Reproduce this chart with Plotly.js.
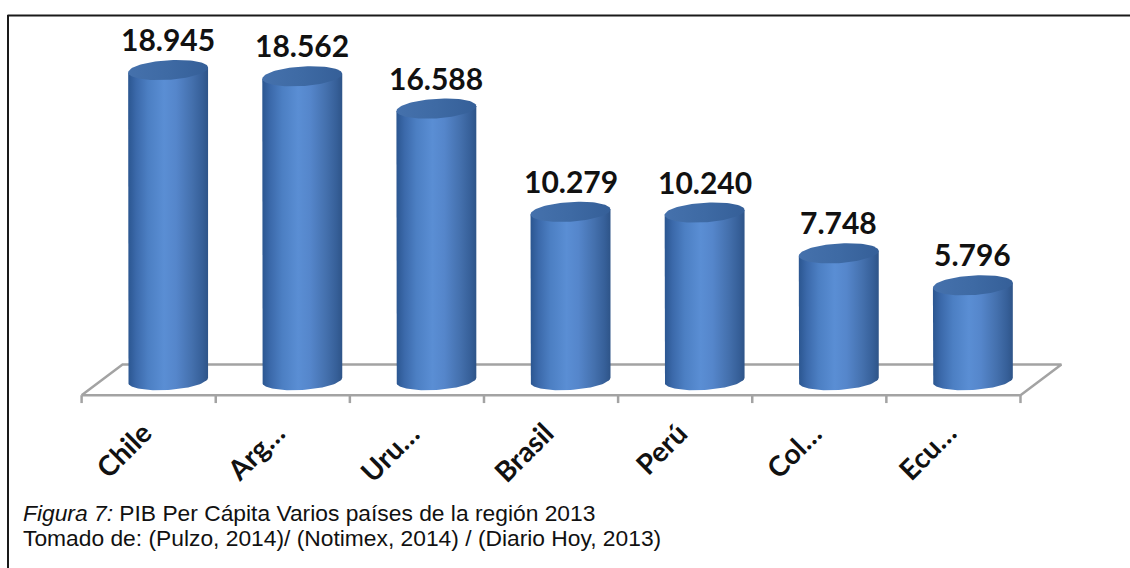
<!DOCTYPE html>
<html>
<head>
<meta charset="utf-8">
<script src="https://cdn.plot.ly/plotly-3.0.1.min.js"></script>
<style>
  html, body { margin: 0; padding: 0; background: #ffffff; }
  #chart { width: 1130px; height: 568px; }
</style>
</head>
<body>
<div id="chart"></div>
<script>
// ---- data ----
const categories = ["Chile", "Arg…", "Uru…", "Brasil", "Perú", "Col…", "Ecu…"];
const values = [18945, 18562, 16588, 10279, 10240, 7748, 5796];   // PIB per cápita (USD)
const captionTitle = "Figura 7:";
const captionLine1 = "PIB Per Cápita Varios países de la región 2013";
const captionLine2 = "Tomado de: (Pulzo, 2014)/ (Notimex, 2014) / (Diario Hoy, 2013)";

// ---- styling / geometry (not data) ----
const HALF_W = 0.298;   // cylinder half width, in category units
const ELL_B = 0.60;     // ellipse half height, in value units (thousands)
const TILT = 0.15;      // ellipse tilt
const N = 48;

function fmt(v) { return String(v).replace(/\B(?=(\d{3})+(?!\d))/g, "."); }

const bodyScale = [
  [0.00, "#2b5690"], [0.10, "#3b69aa"], [0.25, "#4c7fc3"], [0.45, "#5a8ed4"],
  [0.60, "#5586cb"], [0.80, "#4470ad"], [0.93, "#365f98"], [1.00, "#2e5488"]
];
const topScale = [[0, "#4571ac"], [0.5, "#3e6aa4"], [1, "#355f98"]];

const traces = [];

// floor (3D plot floor outline)
const nCat = categories.length;
const FL = -0.645, FR = FL + nCat, DX = 0.305, YF = -0.92, YB = 0.95, YT = -1.4;
const fx = [FL, FR, FR + DX, FL + DX, FL, null];
const fy = [YF, YF, YB, YB, YF, null];
for (let k = 0; k <= nCat; k++) { fx.push(FL + k, FL + k, null); fy.push(YF, YT, null); }
traces.push({
  type: "scatter", mode: "lines", x: fx, y: fy,
  line: { color: "#a3a3a3", width: 2.5 }, hoverinfo: "skip", showlegend: false
});

values.forEach((val, i) => {
  const v = val / 1000;
  const cx = i;
  // body
  const bx = [cx - HALF_W, cx - HALF_W], by = [v - TILT, -TILT];
  for (let j = 0; j <= N; j++) {
    const t = Math.PI + Math.PI * j / N;
    bx.push(cx + HALF_W * Math.cos(t));
    by.push(ELL_B * Math.sin(t) + TILT * Math.cos(t));
  }
  bx.push(cx + HALF_W, cx - HALF_W);
  by.push(v + TILT, v - TILT);
  traces.push({
    type: "scatter", mode: "lines", x: bx, y: by, fill: "toself",
    fillcolor: "#4a7cc0",
    fillgradient: { type: "horizontal", colorscale: bodyScale, start: cx - HALF_W, stop: cx + HALF_W },
    line: { width: 0, color: "rgba(0,0,0,0)" }, hoverinfo: "skip", showlegend: false
  });
  // top ellipse
  const tx = [], ty = [];
  for (let j = 0; j <= N * 2; j++) {
    const t = 2 * Math.PI * j / (N * 2);
    tx.push(cx + HALF_W * Math.cos(t));
    ty.push(v + ELL_B * Math.sin(t) + TILT * Math.cos(t));
  }
  traces.push({
    type: "scatter", mode: "lines", x: tx, y: ty, fill: "toself",
    fillcolor: "#3e6aa4",
    fillgradient: { type: "horizontal", colorscale: topScale, start: cx - HALF_W, stop: cx + HALF_W },
    line: { width: 0, color: "rgba(0,0,0,0)" }, hoverinfo: "skip", showlegend: false
  });
});

const annotations = [];
values.forEach((val, i) => {
  annotations.push({
    x: i, y: val / 1000, xref: "x", yref: "y", text: fmt(val), showarrow: false,
    yshift: 31, yanchor: "middle", xanchor: "center",
    font: { family: "Lato, 'Open Sans', sans-serif", size: 30, color: "#111111", weight: "bold" }
  });
});
categories.forEach((c, i) => {
  annotations.push({
    x: i, y: -2.0, xref: "x", yref: "y", text: "<b>" + c + "</b>", showarrow: false,
    textangle: -45, xanchor: "right", yanchor: "top", xshift: -8,
    font: { family: "Lato, 'Open Sans', sans-serif", size: 28, color: "#111111" }
  });
});
annotations.push({
  xref: "paper", yref: "paper", x: (21 - 34) / 1073, y: (462 - 498) / 442,
  xanchor: "left", yanchor: "top", align: "left", showarrow: false,
  text: "<i>" + captionTitle + "</i> " + captionLine1,
  font: { family: "'Liberation Sans', Arial, sans-serif", size: 22.8, color: "#111111" }
});
annotations.push({
  xref: "paper", yref: "paper", x: (21 - 34) / 1073, y: (462 - 522.5) / 442,
  xanchor: "left", yanchor: "top", align: "left", showarrow: false,
  text: captionLine2,
  font: { family: "'Liberation Sans', Arial, sans-serif", size: 22.8, color: "#111111" }
});

const layout = {
  width: 1130, height: 568,
  margin: { l: 34, r: 23, t: 20, b: 106, pad: 0 },
  paper_bgcolor: "#ffffff", plot_bgcolor: "#ffffff",
  xaxis: { range: [-1, 7], visible: false, showgrid: false, zeroline: false, fixedrange: true },
  yaxis: { range: [-5, 22], visible: false, showgrid: false, zeroline: false, fixedrange: true },
  showlegend: false,
  annotations: annotations,
  shapes: [
    { type: "line", xref: "paper", yref: "paper", x0: (7.5 - 34) / 1073, x1: (1130 - 34) / 1073,
      y0: (462 - 15.5) / 442, y1: (462 - 15.5) / 442, line: { color: "#1a1a1a", width: 2 } },
    { type: "line", xref: "paper", yref: "paper", x0: (8 - 34) / 1073, x1: (8 - 34) / 1073,
      y0: (462 - 15) / 442, y1: (462 - 568) / 442, line: { color: "#1a1a1a", width: 2 } }
  ]
};

Plotly.newPlot("chart", traces, layout, { displayModeBar: false, staticPlot: true });
</script>
</body>
</html>
